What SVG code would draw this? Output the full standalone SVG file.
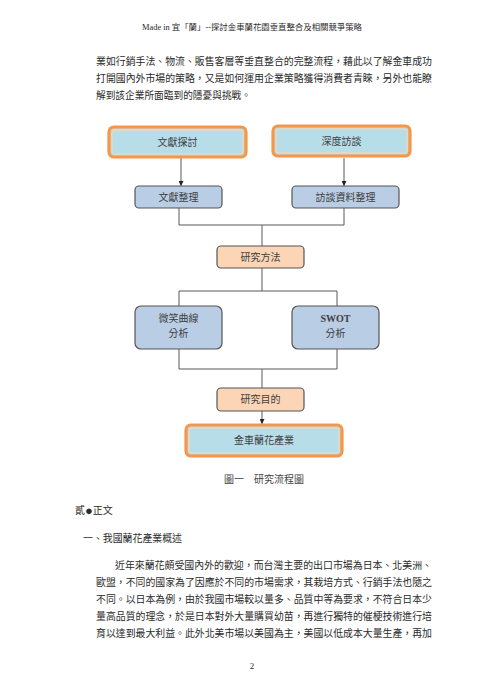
<svg xmlns="http://www.w3.org/2000/svg" width="496" height="700" viewBox="0 0 496 700">
<defs>
<style>
.t{font-family:"Liberation Serif","Noto Sans CJK TC",serif;fill:#2a2a2a;}
.b{font-family:"Liberation Serif","Noto Sans CJK TC",serif;fill:#404040;font-size:10px;text-anchor:middle;}
.or{fill:#b7dde8;stroke:#f79646;stroke-width:3.2;}
.ori{fill:none;stroke:#fcd5b0;stroke-width:1;}
.bl{fill:#b9cde5;stroke:#555;stroke-width:1.2;}
.pe{fill:#fbd5b5;stroke:#555;stroke-width:1.2;}
.c{fill:none;stroke:#595959;stroke-width:1;}
</style>
<marker id="ah" viewBox="0 0 6 6" refX="6" refY="3" markerWidth="5" markerHeight="5" orient="auto" markerUnits="userSpaceOnUse">
<path d="M0,0 L6,3 L0,6 z" fill="#222"/>
</marker>
</defs>
<rect width="496" height="700" fill="#fff"/>
<text class="t" x="252" y="30" font-size="8.5" text-anchor="middle" textLength="220" lengthAdjust="spacingAndGlyphs">Made in  宜「蘭」--探討金車蘭花園垂直整合及相關競爭策略</text>
<text class="t" x="96" y="65" font-size="10" textLength="336" lengthAdjust="spacingAndGlyphs">業如行銷手法、物流、販售客層等垂直整合的完整流程，藉此以了解金車成功</text>
<text class="t" x="96" y="82" font-size="10" textLength="336" lengthAdjust="spacingAndGlyphs">打開國內外市場的策略，又是如何運用企業策略獲得消費者青睞，另外也能瞭</text>
<text class="t" x="96" y="99" font-size="10" textLength="155" lengthAdjust="spacingAndGlyphs">解到該企業所面臨到的隱憂與挑戰。</text>
<g id="connectors">
<line class="c" x1="181" y1="158" x2="181" y2="186" marker-end="url(#ah)"/>
<line class="c" x1="344" y1="158" x2="344" y2="186" marker-end="url(#ah)"/>
<polyline class="c" points="179,208 179,225 344,225 344,208"/>
<line class="c" x1="262" y1="225" x2="262" y2="246"/>
<line class="c" x1="262" y1="268" x2="262" y2="291"/>
<polyline class="c" points="179,306 179,291 337,291 337,306"/>
<polyline class="c" points="179,349 179,369 337,369 337,349"/>
<line class="c" x1="262" y1="369" x2="262" y2="388"/>
<line class="c" x1="262" y1="411" x2="262" y2="424" marker-end="url(#ah)"/>
</g>
<g id="n1">
<rect class="or" x="109" y="127" width="137" height="30" rx="5"/>
<rect class="ori" x="112" y="130" width="131" height="24" rx="3"/>
<text class="b" x="177.5" y="145.5">文獻探討</text>
</g>
<g id="n2">
<rect class="or" x="273" y="126" width="137" height="30" rx="5"/>
<rect class="ori" x="276" y="129" width="131" height="24" rx="3"/>
<text class="b" x="341.5" y="144.5">深度訪談</text>
</g>
<g id="n3">
<rect class="bl" x="135" y="186" width="87" height="22" rx="4"/>
<text class="b" x="178.5" y="200.5">文獻整理</text>
</g>
<g id="n4">
<rect class="bl" x="292" y="186" width="107" height="22" rx="4"/>
<text class="b" x="345.5" y="200.5">訪談資料整理</text>
</g>
<g id="n5">
<rect class="pe" x="217" y="246" width="87" height="22" rx="4"/>
<text class="b" x="260.5" y="260.5">研究方法</text>
</g>
<g id="n6">
<rect class="bl" x="135" y="306" width="87" height="43" rx="6"/>
<text class="b" x="178.5" y="322">微笑曲線</text>
<text class="b" x="178.5" y="337">分析</text>
</g>
<g id="n7">
<rect class="bl" x="292" y="306" width="87" height="43" rx="6"/>
<text class="b" x="335.5" y="322" font-weight="bold">SWOT</text>
<text class="b" x="335.5" y="337">分析</text>
</g>
<g id="n8">
<rect class="pe" x="217" y="388" width="87" height="23" rx="4"/>
<text class="b" x="260.5" y="403">研究目的</text>
</g>
<g id="n9">
<rect class="or" x="186" y="425" width="156" height="31" rx="5"/>
<rect class="ori" x="189" y="428" width="150" height="25" rx="3"/>
<text class="b" x="264" y="443.5">金車蘭花產業</text>
</g>
<text class="t" x="264" y="483" font-size="10" text-anchor="middle" style="fill:#444">圖一　研究流程圖</text>
<text class="t" x="75" y="514" font-size="10">貳<tspan font-size="13" dy="1">●</tspan><tspan dy="-1">正文</tspan></text>
<text class="t" x="83" y="542" font-size="10" textLength="99" lengthAdjust="spacingAndGlyphs">一、我國蘭花產業概述</text>
<text class="t" x="115" y="569" font-size="10" textLength="317" lengthAdjust="spacingAndGlyphs">近年來蘭花頗受國內外的歡迎，而台灣主要的出口市場為日本、北美洲、</text>
<text class="t" x="96" y="586" font-size="10" textLength="336" lengthAdjust="spacingAndGlyphs">歐盟，不同的國家為了因應於不同的市場需求，其栽培方式、行銷手法也隨之</text>
<text class="t" x="96" y="603" font-size="10" textLength="336" lengthAdjust="spacingAndGlyphs">不同。以日本為例，由於我國市場較以量多、品質中等為要求，不符合日本少</text>
<text class="t" x="96" y="620" font-size="10" textLength="336" lengthAdjust="spacingAndGlyphs">量高品質的理念，於是日本對外大量購買幼苗，再進行獨特的催梗技術進行培</text>
<text class="t" x="96" y="637" font-size="10" textLength="336" lengthAdjust="spacingAndGlyphs">育以達到最大利益。此外北美市場以美國為主，美國以低成本大量生產，再加</text>
<text class="t" x="252" y="669" font-size="9" text-anchor="middle">2</text>
</svg>
